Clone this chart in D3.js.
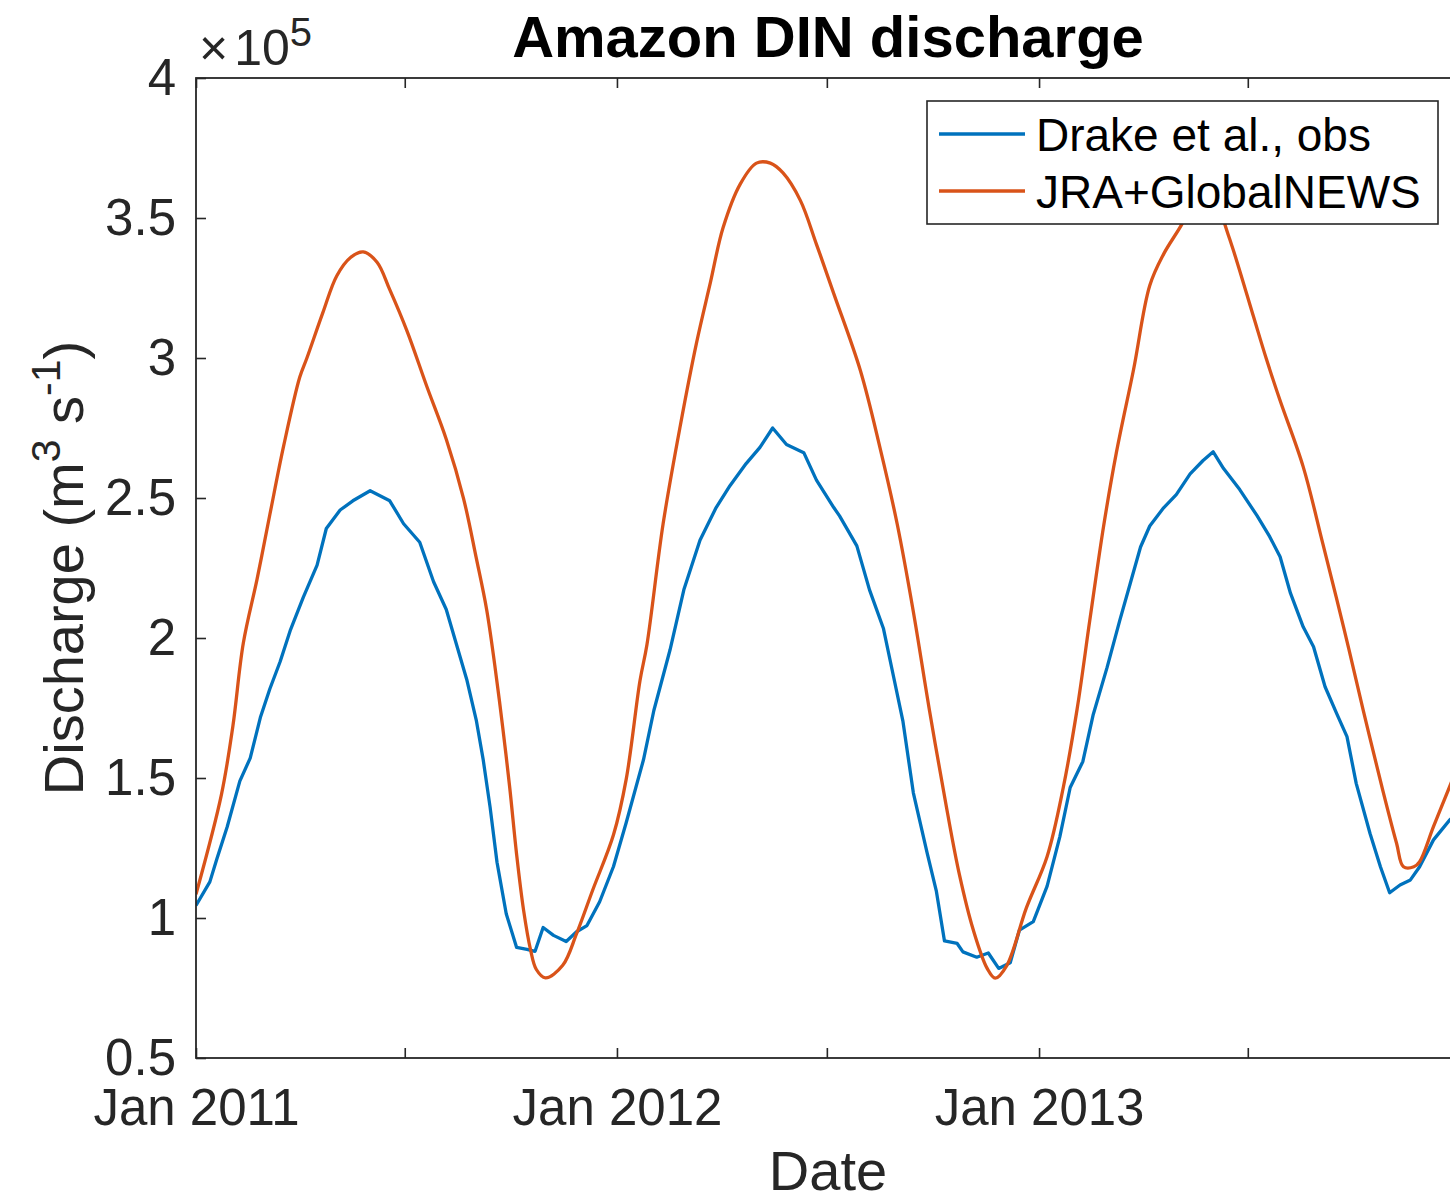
<!DOCTYPE html>
<html>
<head>
<meta charset="utf-8">
<script src="https://cdn.jsdelivr.net/npm/d3@7"></script>
<style>
  html, body { margin: 0; padding: 0; background: #fff; }
  svg { display: block; }
  text { font-family: "Liberation Sans", Arial, Helvetica, sans-serif; }
</style>
</head>
<body>
<svg id="chart" width="1450" height="1201"></svg>
<script>
// Amazon DIN discharge, daily series starting 1 Jan 2011.
// Day index = days since 2011-01-01; values in units of 10^5 m^3 s^-1.
const START = "2011-01-01";

const obsDay = [0, 12, 18, 27, 38, 47, 56, 64, 73, 82, 93, 105, 113, 125, 136, 151, 168, 180, 194, 206,
  217, 226, 235, 243, 249, 255, 261, 269, 278, 287, 294, 301, 310, 321, 330, 339, 350, 362, 373, 388,
  397, 411, 423, 437, 451, 463, 477, 489, 500, 512, 527, 538, 553, 558, 573, 584, 596, 605, 613, 622,
  634, 642, 649, 660, 665, 677, 687, 696, 706, 714, 726, 738, 749, 758, 769, 778, 790, 801, 810, 819,
  827, 839, 850, 862, 873, 882, 891, 905, 920, 931, 940, 949, 960, 969, 979, 989, 998, 1006, 1018, 1027,
  1035, 1044, 1053, 1061, 1073, 1087, 1095];
const obsValue = [1.045, 1.129, 1.21, 1.325, 1.489, 1.571, 1.719, 1.818, 1.916, 2.03, 2.145, 2.26, 2.391, 2.457, 2.49, 2.526, 2.49, 2.408, 2.342, 2.201,
  2.102, 1.975, 1.848, 1.707, 1.566, 1.396, 1.199, 1.015, 0.895, 0.888, 0.881, 0.966, 0.938, 0.916, 0.951, 0.973, 1.058, 1.184, 1.34, 1.565,
  1.741, 1.957, 2.172, 2.349, 2.466, 2.544, 2.623, 2.681, 2.75, 2.691, 2.662, 2.564, 2.466, 2.436, 2.329, 2.172, 2.035, 1.859, 1.702, 1.447,
  1.232, 1.095, 0.918, 0.909, 0.879, 0.86, 0.875, 0.82, 0.84, 0.957, 0.987, 1.114, 1.29, 1.466, 1.559, 1.727, 1.895, 2.063, 2.194, 2.325,
  2.4, 2.465, 2.512, 2.586, 2.633, 2.665, 2.605, 2.53, 2.437, 2.362, 2.29, 2.16, 2.04, 1.969, 1.826, 1.731, 1.648, 1.481, 1.302, 1.183,
  1.09, 1.118, 1.136, 1.183, 1.279, 1.35, 1.38];

const modelDay = [0, 22, 32, 41, 53, 64, 76, 90, 96, 110, 122, 134, 145, 157, 168, 183, 200, 217, 232, 243,
  252, 259, 266, 272, 278, 284, 290, 295, 303, 318, 330, 344, 362, 373, 385, 391, 405, 420, 434, 446,
  457, 472, 486, 498, 509, 524, 538, 553, 576, 593, 608, 622, 636, 651, 662, 674, 686, 693, 703, 720,
  738, 752, 764, 775, 787, 798, 813, 827, 839, 855, 866, 876, 886, 892, 902, 917, 928, 940, 960, 977,
  995, 1012, 1029, 1041, 1047, 1056, 1061, 1073, 1087, 1095];
const modelValue = [1.085, 1.44, 1.686, 1.981, 2.211, 2.44, 2.686, 2.932, 2.998, 3.162, 3.293, 3.359, 3.379, 3.342, 3.244, 3.096, 2.9, 2.71, 2.498, 2.286,
  2.102, 1.905, 1.679, 1.467, 1.227, 1.029, 0.888, 0.817, 0.786, 0.831, 0.944, 1.1, 1.297, 1.495, 1.848, 1.976, 2.407, 2.76, 3.054, 3.269,
  3.465, 3.622, 3.696, 3.696, 3.661, 3.563, 3.406, 3.23, 2.956, 2.681, 2.407, 2.094, 1.741, 1.389, 1.154, 0.957, 0.82, 0.785, 0.83, 1.036,
  1.22, 1.466, 1.746, 2.063, 2.4, 2.661, 2.96, 3.259, 3.371, 3.479, 3.57, 3.61, 3.56, 3.479, 3.352, 3.147, 2.998, 2.848, 2.612, 2.338,
  2.04, 1.743, 1.457, 1.267, 1.183, 1.183, 1.201, 1.326, 1.469, 1.55];

const seriesNames = ["Drake et al., obs", "JRA+GlobalNEWS"];
const seriesColors = ["#0072BD", "#D95319"];
const yTicks = [0.5, 1, 1.5, 2, 2.5, 3, 3.5, 4];
const xDomain = ["2011-01-01", "2014-01-01"];
const xTickDates = ["2011-01-01", "2011-07-01", "2012-01-01", "2012-07-01", "2013-01-01", "2013-07-01"];

const utc = s => new Date(s + "T00:00:00Z");
const t0 = utc(START);
const toSeries = (days, vals) => days.map((d, i) => ({ date: d3.utcDay.offset(t0, d), value: vals[i] }));
const series = [toSeries(obsDay, obsValue), toSeries(modelDay, modelValue)];

const svg = d3.select("#chart");
const W = 1450, H = 1201;
const m = { left: 196, right: 1460, top: 78, bottom: 1058 };
const axisColor = "#262626";
const FONT = '"Liberation Sans", Arial, Helvetica, sans-serif';

svg.append("rect").attr("width", W).attr("height", H).attr("fill", "#fff");

const x = d3.scaleUtc().domain(xDomain.map(utc)).range([m.left, m.right]);
const y = d3.scaleLinear().domain([0.5, 4]).range([m.bottom, m.top]);

const xTickVals = xTickDates.map(utc);
const fmtX = d => d.getUTCMonth() === 0 ? d3.utcFormat("%b %Y")(d) : "";

// Series lines, clipped to the axes box
svg.append("clipPath").attr("id", "plot-clip")
  .append("rect").attr("x", m.left).attr("y", m.top)
  .attr("width", m.right - m.left).attr("height", m.bottom - m.top);

const curves = [d3.curveLinear, d3.curveCatmullRom.alpha(0.5)];
const gLines = svg.append("g").attr("clip-path", "url(#plot-clip)");
series.forEach((s, i) => {
  const line = d3.line().x(d => x(d.date)).y(d => y(d.value)).curve(curves[i]);
  gLines.append("path").datum(s)
    .attr("fill", "none")
    .attr("stroke", seriesColors[i])
    .attr("stroke-width", 3.3)
    .attr("stroke-linejoin", "round")
    .attr("d", line);
});

// Axes with inward ticks on all four sides
function styleAxis(g, fontSize) {
  g.select(".domain").remove();
  g.selectAll(".tick line").attr("stroke", axisColor).attr("stroke-width", 1.6);
  g.selectAll(".tick text").attr("fill", axisColor).attr("font-size", fontSize).attr("font-family", FONT);
}

const gx = svg.append("g").attr("transform", `translate(0,${m.bottom})`)
  .call(d3.axisBottom(x).tickValues(xTickVals).tickFormat(fmtX).tickSize(-10).tickPadding(31));
styleAxis(gx, 51);

svg.append("g").attr("transform", `translate(0,${m.top})`)
  .call(d3.axisTop(x).tickValues(xTickVals).tickFormat("").tickSize(-10))
  .call(g => styleAxis(g, 51));

const gy = svg.append("g").attr("transform", `translate(${m.left},0)`)
  .call(d3.axisLeft(y).tickValues(yTicks).tickFormat(d3.format("~g")).tickSize(-10).tickPadding(20));
styleAxis(gy, 51);

svg.append("g").attr("transform", `translate(${m.right},0)`)
  .call(d3.axisRight(y).tickValues(yTicks).tickFormat("").tickSize(-10))
  .call(g => styleAxis(g, 51));

// Axes box
svg.append("rect")
  .attr("x", m.left).attr("y", m.top)
  .attr("width", m.right - m.left).attr("height", m.bottom - m.top)
  .attr("fill", "none").attr("stroke", axisColor).attr("stroke-width", 1.8);

// Exponent marker
const expo = svg.append("text").attr("x", 199).attr("y", 65).attr("fill", axisColor).attr("font-size", 50);
expo.append("tspan").text("\u00D7");
expo.append("tspan").attr("dx", 6).text("10");
expo.append("tspan").attr("font-size", 40).attr("dy", -19).text("5");

// Title and axis labels
svg.append("text").attr("x", (m.left + m.right) / 2).attr("y", 57)
  .attr("text-anchor", "middle").attr("font-size", 58).attr("font-weight", "bold")
  .attr("fill", "#000").text("Amazon DIN discharge");

svg.append("text").attr("x", (m.left + m.right) / 2).attr("y", 1190)
  .attr("text-anchor", "middle").attr("font-size", 56).attr("fill", axisColor).text("Date");

const yl = svg.append("text")
  .attr("transform", `translate(83,${(m.top + m.bottom) / 2}) rotate(-90)`)
  .attr("text-anchor", "middle").attr("font-size", 56).attr("fill", axisColor);
yl.append("tspan").text("Discharge (m");
yl.append("tspan").attr("font-size", 41).attr("dy", -23).text("3");
yl.append("tspan").attr("dy", 23).text(" s");
yl.append("tspan").attr("font-size", 41).attr("dy", -23).text("-1");
yl.append("tspan").attr("dy", 23).text(")");

// Legend
const lg = svg.append("g");
lg.append("rect").attr("x", 927).attr("y", 101).attr("width", 511).attr("height", 123)
  .attr("fill", "#fff").attr("stroke", axisColor).attr("stroke-width", 1.6);
seriesNames.forEach((name, i) => {
  const cy = 134 + i * 57;
  lg.append("line").attr("x1", 939).attr("x2", 1025).attr("y1", cy).attr("y2", cy)
    .attr("stroke", seriesColors[i]).attr("stroke-width", 3.3);
  lg.append("text").attr("x", 1036).attr("y", cy + 17).attr("font-size", 46)
    .attr("fill", "#000").text(name);
});
</script>
</body>
</html>
